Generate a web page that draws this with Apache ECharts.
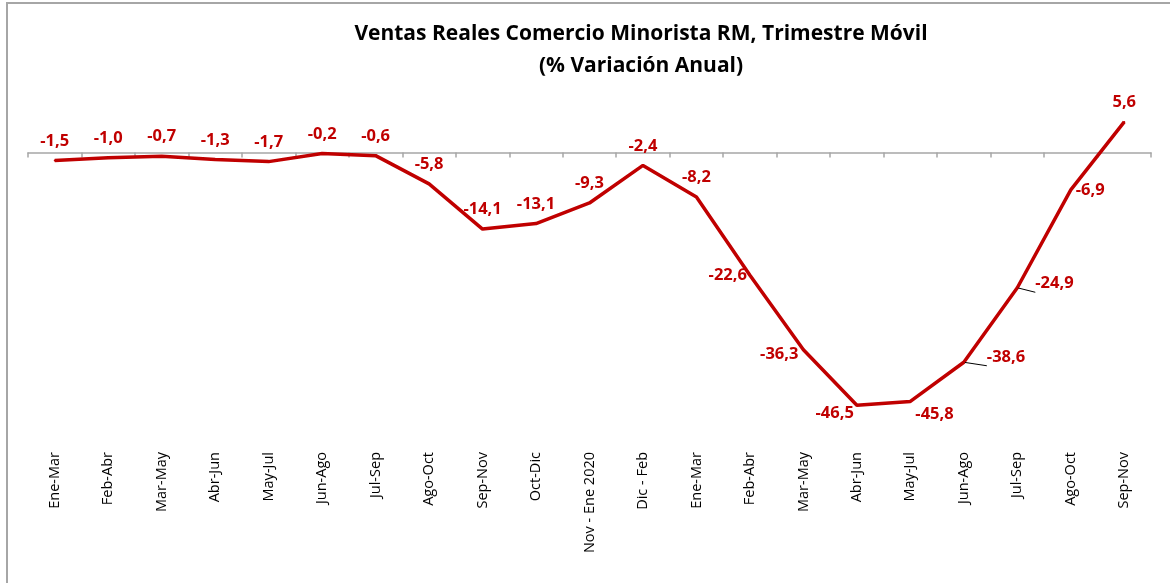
<!DOCTYPE html>
<html>
<head>
<meta charset="utf-8">
<script src="https://cdn.jsdelivr.net/npm/echarts@6/dist/echarts.min.js"></script>
<style>
html,body{margin:0;padding:0;background:#fff;}
#frame{position:absolute;left:6px;top:2px;width:1164px;height:581px;border-left:2px solid #a6a6a6;border-top:2px solid #a6a6a6;box-sizing:border-box;}
#chart{position:absolute;left:0;top:0;width:1170px;height:583px;}
</style>
</head>
<body>
<div id="frame"></div>
<div id="chart"></div>
<script>
const categories = ["Ene-Mar","Feb-Abr","Mar-May","Abr-Jun","May-Jul","Jun-Ago","Jul-Sep","Ago-Oct","Sep-Nov","Oct-Dic","Nov - Ene 2020","Dic - Feb","Ene-Mar","Feb-Abr","Mar-May","Abr-Jun","May-Jul","Jun-Ago","Jul-Sep","Ago-Oct","Sep-Nov"];
const values = [-1.5,-1.0,-0.7,-1.3,-1.7,-0.2,-0.6,-5.8,-14.1,-13.1,-9.3,-2.4,-8.2,-22.6,-36.3,-46.5,-45.8,-38.6,-24.9,-6.9,5.6];
const titleLines = ["Ventas Reales Comercio Minorista RM, Trimestre Móvil","(% Variación Anual)"];

// label placement overrides (index -> label options)
const labelOverrides = {
  13: {position:'left', distance:2, offset:[0,0]},
  14: {position:'left', distance:4, offset:[0,5]},
  15: {position:'left', distance:2, offset:[0,8]},
  16: {position:'right', distance:4, offset:[0,13]},
  17: {position:'right', distance:22, offset:[0,-5]},
  18: {position:'right', distance:17, offset:[0,-4]},
  19: {position:'right', distance:4, offset:[0,0]}
};
const leaderIdx = [17,18];

const RED = '#C00000';
const data = values.map((v,i)=>{
  const item = {value:v};
  if (labelOverrides[i]) item.label = labelOverrides[i];
  if (leaderIdx.includes(i)) item.labelLine = {show:true, lineStyle:{color:'#000', width:1}};
  return item;
});

const chart = echarts.init(document.getElementById('chart'), null, {renderer:'canvas'});
chart.setOption({
  animation:false,
  backgroundColor:'transparent',
  title:{
    text: titleLines.join('\n'),
    left: 636, textAlign:'center', top: 13,
    textStyle:{fontFamily:'Open Sans', fontWeight:'bold', fontSize:21, color:'#000', lineHeight:32}
  },
  grid:{left:28, right:19, top:98, height:348},
  xAxis:[
    {type:'category', data:categories, position:'bottom',
     axisLine:{show:false, onZero:false}, axisTick:{show:false},
     axisLabel:{rotate:90, margin:6, interval:0, fontFamily:'Open Sans', fontSize:14.5, color:'#000'}},
    {type:'category', data:categories, position:'bottom',
     axisLine:{show:true, onZero:true, lineStyle:{color:'#a6a6a6', width:1.5}},
     axisTick:{show:true, length:5, interval:0, lineStyle:{color:'#a6a6a6', width:1.5}},
     axisLabel:{show:false}}
  ],
  yAxis:{type:'value', min:-54, max:10, show:false, splitLine:{show:false}},
  series:[{
    type:'line', xAxisIndex:0, data:data,
    symbol:'circle', symbolSize:2, itemStyle:{color:RED},
    lineStyle:{color:RED, width:3.5},
    label:{show:true, position:'top', distance:10, color:RED, fontFamily:'Open Sans', fontWeight:'bold', fontSize:16.5,
      formatter:p=>p.value.toFixed(1).replace('.',',')}
  }]
});
</script>
</body>
</html>
